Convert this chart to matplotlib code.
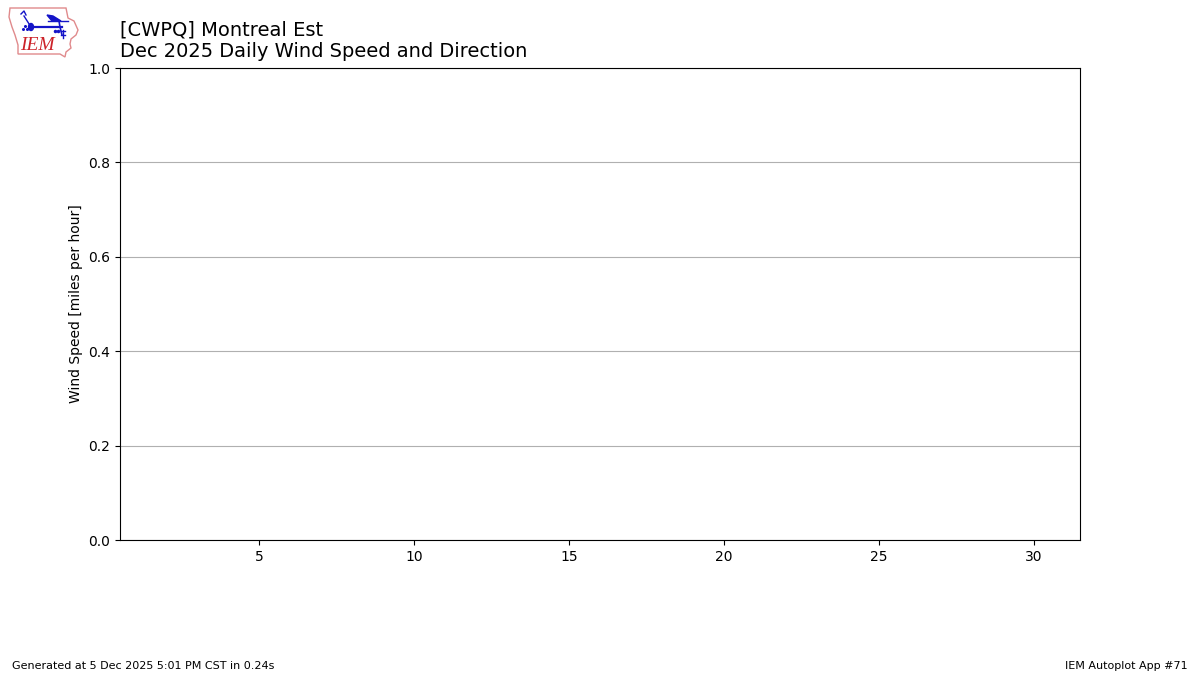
import matplotlib
matplotlib.use("Agg")
import matplotlib.pyplot as plt
from matplotlib.patches import Polygon, Ellipse

title_lines = ["[CWPQ] Montreal Est", "Dec 2025 Daily Wind Speed and Direction"]
ylabel = "Wind Speed [miles per hour]"
xticks = [5, 10, 15, 20, 25, 30]
yticks = [0.0, 0.2, 0.4, 0.6, 0.8, 1.0]
footer_left = "Generated at 5 Dec 2025 5:01 PM CST in 0.24s"
footer_right = "IEM Autoplot App #71"

# rough outline of the logo, in pixels of the 1200x675 picture
logo_outline = [(10, 8), (30, 8), (66, 8), (67, 13), (68, 18), (74, 21), (78, 30), (76, 35),
                (71, 39), (70, 44), (71, 48), (66, 52), (65, 57), (60, 54), (18, 54),
                (18, 45), (15, 35), (12, 27), (9, 17)]

fig = plt.figure(figsize=(12, 6.75), dpi=100)
ax = fig.add_axes([120 / 1200, 1 - 540 / 675, 960 / 1200, 472 / 675])
ax.set_xlim(0.5, 31.5)
ax.set_ylim(0, 1)
ax.set_xticks(xticks)
ax.set_yticks(yticks)
ax.set_ylabel(ylabel)
ax.grid(True, axis="y")

# each title line on its own, the way they sit in the reference
fig.text(120 / 1200, 1 - 39 / 675, title_lines[0], fontsize=14, ha="left", va="bottom")
fig.text(120 / 1200, 1 - 61 / 675, title_lines[1], fontsize=13.98, ha="left", va="bottom")
fig.text(12 / 1200, 1 - 666 / 675, footer_left, fontsize=8, ha="left", va="center")
fig.text(1187.2 / 1200, 1 - 666 / 675, footer_right, fontsize=8, ha="right", va="center")

# logo
lg = fig.add_axes([0, 0, 1, 1])
lg.set_xlim(0, 1200)
lg.set_ylim(675, 0)
lg.axis("off")
lg.patch.set_alpha(0)
lg.add_patch(Polygon(logo_outline, closed=True, fill=False, ec="#e08a8c", lw=1))
lg.plot([31, 62], [27, 27], color="#1414c8", lw=1.6)
lg.plot([59, 60, 62], [21, 27, 35], color="#1414c8", lw=1.2)
lg.plot([24, 31], [16, 27], color="#1414c8", lw=1)
lg.plot([21, 24, 26], [14, 11, 15], color="#1414c8", lw=1)
lg.plot([48, 68], [21, 21], color="#1414c8", lw=1)
lg.plot([61, 65], [31, 31], color="#1414c8", lw=1)
lg.plot([61, 65], [35, 35], color="#1414c8", lw=1)
lg.plot([63, 63], [30, 38], color="#1414c8", lw=1)
lg.plot([23, 25, 27], [29, 26, 29], ls="none", marker="o", ms=1.2, color="#1414c8")
lg.plot([55, 58], [31, 31], ls="none", marker="o", ms=1.5, color="#1414c8")
lg.add_patch(Ellipse((31, 27), 5, 7, color="#1414c8"))
lg.add_patch(Polygon([(47, 15), (53, 16), (61, 21), (52, 21)], closed=True, color="#1414c8"))
lg.text(20.5, 45.5, "IEM", color="#cc2229", fontsize=14, family="Liberation Serif", style="italic", ha="left", va="center")

fig.savefig("out.png", dpi=100)
